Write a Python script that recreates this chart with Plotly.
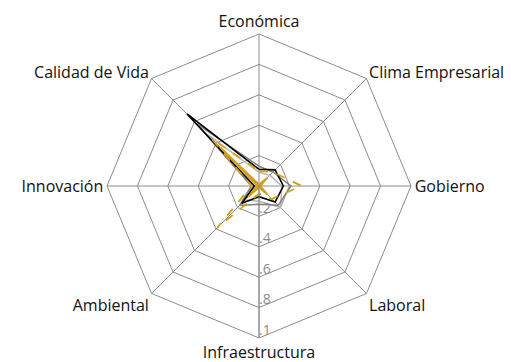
import plotly.graph_objects as go

categories = ["Económica", "Clima Empresarial", "Gobierno", "Laboral",
              "Infraestructura", "Ambiental", "Innovación", "Calidad de Vida"]

serie_negra = [0.11, 0.15, 0.16, 0.15, 0.07, 0.16, 0.03, 0.67]
serie_gris = [0.13, 0.13, 0.21, 0.18, 0.12, 0.18, 0.05, 0.58]
serie_gris_clara = [0.09, 0.10, 0.15, 0.20, 0.10, 0.13, 0.04, 0.48]
serie_dorada = [0.01, 0.08, 0.01, 0.08, 0.01, 0.10, 0.01, 0.36]
serie_dorada_disc = [0.10, 0.13, 0.28, 0.12, 0.05, 0.39, 0.05, 0.44]

tick_vals = [0.2, 0.4, 0.6, 0.8, 1.0]
tick_text = [".2", ".4", ".6", ".8", ".1"]

def closed(v):
    return v + [v[0]]

cats_c = categories + [categories[0]]

fig = go.Figure()
series = [
    (serie_gris_clara, "#b5b5b5", "solid", 1.5),
    (serie_gris, "#7f7f7f", "solid", 1.5),
    (serie_negra, "#000000", "solid", 1.6),
    (serie_dorada, "#d4a017", "solid", 1.8),
    (serie_dorada_disc, "#d4a017", "dash", 1.8),
]
for vals, col, dash, w in series:
    fig.add_trace(go.Scatterpolar(
        r=closed(vals), theta=cats_c, mode="lines",
        line=dict(color=col, dash=dash, width=w), showlegend=False,
        hoverinfo="skip"))

# radial tick labels placed along the Infraestructura spoke
fig.add_trace(go.Scatterpolar(
    r=tick_vals, theta=["Infraestructura"] * len(tick_vals),
    mode="text", text=tick_text, textposition="top right",
    textfont=dict(family="Open Sans", size=14, color="#8a8a8a"),
    showlegend=False, hoverinfo="skip", cliponaxis=False))

W, H = 529, 362
cx, cy, R = 251.0, 178.0, 152
fig.update_layout(
    width=W, height=H,
    margin=dict(l=0, r=0, t=0, b=0),
    paper_bgcolor="white", plot_bgcolor="white",
    font=dict(family="Open Sans", size=16, color="#111111"),
    polar=dict(
        domain=dict(x=[(cx - R) / W, (cx + R) / W],
                    y=[1 - (cy + R) / H, 1 - (cy - R) / H]),
        bgcolor="white",
        gridshape="linear",
        angularaxis=dict(direction="clockwise", rotation=90,
                         showline=True, linecolor="#8c8c8c", linewidth=1,
                         gridcolor="#8c8c8c", gridwidth=1,
                         ticks="", tickfont=dict(size=16, color="#111111")),
        radialaxis=dict(range=[0, 1], angle=-90,
                        tickvals=tick_vals, showticklabels=False,
                        showline=True, linecolor="#8c8c8c", linewidth=1,
                        gridcolor="#8c8c8c", gridwidth=1, ticks=""),
    ),
)
fig.write_html("out.html")
